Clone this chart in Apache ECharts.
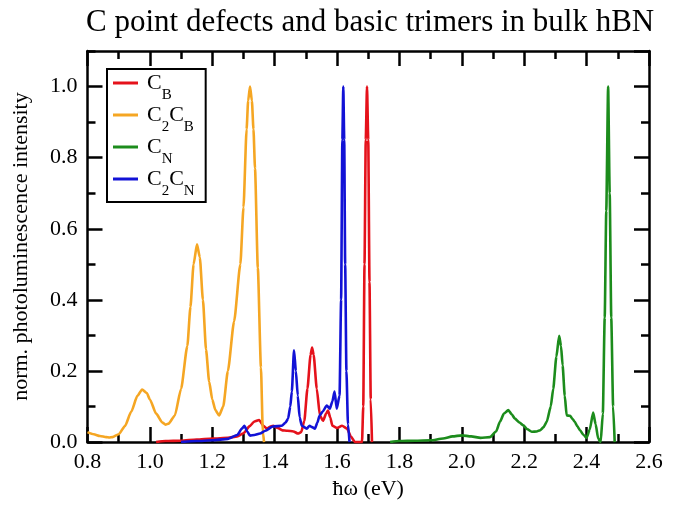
<!DOCTYPE html>
<html><head><meta charset="utf-8">
<script src="https://cdn.jsdelivr.net/npm/echarts@6/dist/echarts.min.js"></script>
<style>html,body{margin:0;padding:0;background:#fff}#c{width:680px;height:505px}</style>
</head><body><div id="c"></div>
<script>
const titleText = 'C point defects and basic trimers in bulk hBN';
const xAxisName = 'ħω (eV)';
const yAxisName = 'norm. photoluminescence intensity';
const seriesNames = ['C_B', 'C2C_B', 'C_N', 'C2C_N'];

const cbX = [1.02,1.05,1.10,1.15,1.20,1.25,1.28,1.30,1.32,1.335,1.35,1.365,1.375,1.385,1.395,1.41,1.425,1.44,1.46,1.475,1.485,1.495,1.505,1.515,1.52,1.525,1.535,1.545,1.555,1.565,1.571,1.578,1.585,1.60,1.616,1.632,1.645,1.657,1.680,1.684,1.688,1.692,1.696,1.700,1.704,1.708,1.712];
const cbY = [0.0,0.003,0.004,0.007,0.010,0.012,0.016,0.025,0.045,0.058,0.062,0.045,0.038,0.043,0.046,0.040,0.033,0.032,0.030,0.024,0.028,0.06,0.15,0.245,0.266,0.245,0.15,0.075,0.06,0.08,0.089,0.07,0.046,0.040,0.046,0.038,0.015,0.0,0.0,0.10,0.50,0.85,1.0,0.85,0.45,0.12,0.0];

const c2cbX = [0.80,0.82,0.84,0.86,0.87,0.88,0.90,0.92,0.94,0.96,0.975,0.99,1.00,1.02,1.04,1.05,1.06,1.08,1.10,1.12,1.13,1.14,1.151,1.16,1.17,1.18,1.19,1.20,1.21,1.222,1.235,1.25,1.27,1.29,1.30,1.31,1.315,1.321,1.327,1.332,1.337,1.346,1.356,1.362,1.366];
const c2cbY = [0.028,0.022,0.017,0.014,0.013,0.014,0.022,0.045,0.085,0.13,0.148,0.138,0.12,0.08,0.055,0.049,0.052,0.075,0.15,0.27,0.38,0.50,0.556,0.52,0.40,0.26,0.17,0.12,0.09,0.075,0.10,0.20,0.34,0.50,0.66,0.88,0.96,1.0,0.96,0.88,0.77,0.49,0.21,0.03,0.0];

const cnX = [1.77,1.80,1.85,1.90,1.94,1.97,2.00,2.03,2.06,2.09,2.11,2.122,2.135,2.149,2.160,2.170,2.185,2.197,2.21,2.224,2.24,2.25,2.262,2.272,2.285,2.293,2.303,2.312,2.318,2.323,2.330,2.336,2.347,2.355,2.362,2.370,2.379,2.390,2.400,2.410,2.421,2.429,2.437,2.445,2.452,2.458,2.463,2.469,2.474,2.479,2.485,2.490];
const cnY = [0.0,0.003,0.004,0.005,0.010,0.016,0.019,0.016,0.012,0.014,0.030,0.057,0.080,0.090,0.078,0.066,0.055,0.047,0.036,0.029,0.030,0.033,0.042,0.057,0.10,0.15,0.24,0.299,0.27,0.216,0.13,0.075,0.074,0.065,0.057,0.045,0.033,0.020,0.012,0.035,0.083,0.05,0.01,0.0,0.08,0.35,0.65,1.0,0.70,0.35,0.10,0.0];

const c2cnX = [1.10,1.15,1.20,1.25,1.28,1.295,1.303,1.312,1.321,1.335,1.353,1.37,1.394,1.423,1.435,1.443,1.450,1.455,1.462,1.468,1.474,1.480,1.487,1.503,1.512,1.520,1.529,1.537,1.544,1.554,1.567,1.577,1.585,1.592,1.599,1.608,1.613,1.617,1.620,1.623,1.626,1.630,1.635,1.640];
const c2cnY = [0.0,0.003,0.005,0.009,0.020,0.038,0.046,0.030,0.018,0.020,0.024,0.032,0.044,0.046,0.055,0.066,0.10,0.142,0.258,0.20,0.131,0.07,0.046,0.038,0.046,0.042,0.038,0.055,0.075,0.086,0.103,0.094,0.115,0.142,0.094,0.131,0.40,0.85,1.0,0.85,0.50,0.20,0.05,0.0];

const colors = ['#e5121b', '#f5a623', '#1c8c1c', '#1212d6'];
const xs = [cbX, c2cbX, cnX, c2cnX];
const ys = [cbY, c2cbY, cnY, c2cnY];

const FONT = 'Liberation Serif';
const legendRich = {
  f: {fontFamily: FONT, fontSize: 22, lineHeight: 22, verticalAlign: 'top', color: '#000', padding: [0, 0, 0, 4]},
  c: {fontFamily: FONT, fontSize: 22, lineHeight: 22, verticalAlign: 'top', color: '#000'},
  s: {fontFamily: FONT, fontSize: 15, lineHeight: 15, padding: [16, 0, 0, 0], verticalAlign: 'top', color: '#000'}
};
const legendFmt = {
  'C_B': '{f|C}{s|B}',
  'C2C_B': '{f|C}{s|2}{c|C}{s|B}',
  'C_N': '{f|C}{s|N}',
  'C2C_N': '{f|C}{s|2}{c|C}{s|N}'
};
const axText = {fontFamily: FONT, fontSize: 22, color: '#000'};

const chart = echarts.init(document.getElementById('c'));
const baseX = {type: 'value', min: 0.8, max: 2.6, interval: 0.2};
const baseY = {type: 'value', min: 0, max: 1.1};
const axisLine = {show: true, onZero: false, lineStyle: {color: '#000', width: 2.5}};
const majTick = {inside: true, length: 15, lineStyle: {color: '#000', width: 2.5}};
const minTick = {inside: true, length: 8, lineStyle: {color: '#000', width: 2.5}};
const minorX = {show: true, splitNumber: 2, length: 8, lineStyle: {color: '#000', width: 2.5}};
chart.setOption({
  animation: false,
  backgroundColor: '#fff',
  title: {text: titleText, left: 81, top: 2,
    textStyle: {fontFamily: FONT, fontSize: 31, fontWeight: 'normal', color: '#000'}},
  grid: {left: 87.5, right: 31, top: 51, bottom: 61.5, containLabel: false},
  legend: {
    data: seriesNames, orient: 'vertical', left: 107, top: 69,
    icon: 'rect', itemWidth: 25, itemHeight: 3, itemGap: 1,
    padding: [3, 11, 3, 6],
    borderColor: '#000', borderWidth: 2, backgroundColor: '#fff',
    formatter: n => legendFmt[n],
    textStyle: {fontFamily: FONT, rich: legendRich}
  },
  xAxis: [
    Object.assign({}, baseX, {position: 'bottom', name: xAxisName, nameLocation: 'middle', nameGap: 35,
      nameTextStyle: Object.assign({}, axText),
      axisLine: axisLine, splitLine: {show: false}, axisTick: majTick, minorTick: minorX,
      axisLabel: Object.assign({margin: 9, formatter: v => v.toFixed(1)}, axText)}),
    Object.assign({}, baseX, {position: 'top',
      axisLine: axisLine, splitLine: {show: false}, axisTick: majTick, minorTick: minorX,
      axisLabel: {show: false}})
  ],
  yAxis: [
    Object.assign({}, baseY, {position: 'left', interval: 0.2,
      name: yAxisName, nameLocation: 'middle', nameGap: 55,
      nameTextStyle: Object.assign({}, axText),
      axisLine: axisLine, splitLine: {show: false}, axisTick: majTick,
      axisLabel: Object.assign({margin: 10, showMaxLabel: false,
        formatter: v => (v > 1.05 ? '' : v.toFixed(1))}, axText)}),
    Object.assign({}, baseY, {position: 'left', interval: 0.1,
      axisLine: {show: false}, splitLine: {show: false}, axisTick: minTick, axisLabel: {show: false}}),
    Object.assign({}, baseY, {position: 'right', interval: 0.2,
      axisLine: axisLine, splitLine: {show: false}, axisTick: majTick, axisLabel: {show: false}}),
    Object.assign({}, baseY, {position: 'right', interval: 0.1,
      axisLine: {show: false}, splitLine: {show: false}, axisTick: minTick, axisLabel: {show: false}})
  ],
  series: seriesNames.map((n, i) => ({
    name: n, type: 'line', xAxisIndex: 0, yAxisIndex: 0,
    data: xs[i].map((x, k) => [x, ys[i][k]]),
    symbol: 'none', smooth: 0.2, smoothMonotone: 'x',
    lineStyle: {color: colors[i], width: 2.6}, itemStyle: {color: colors[i]},
    clip: true
  }))
});
</script>
</body></html>
